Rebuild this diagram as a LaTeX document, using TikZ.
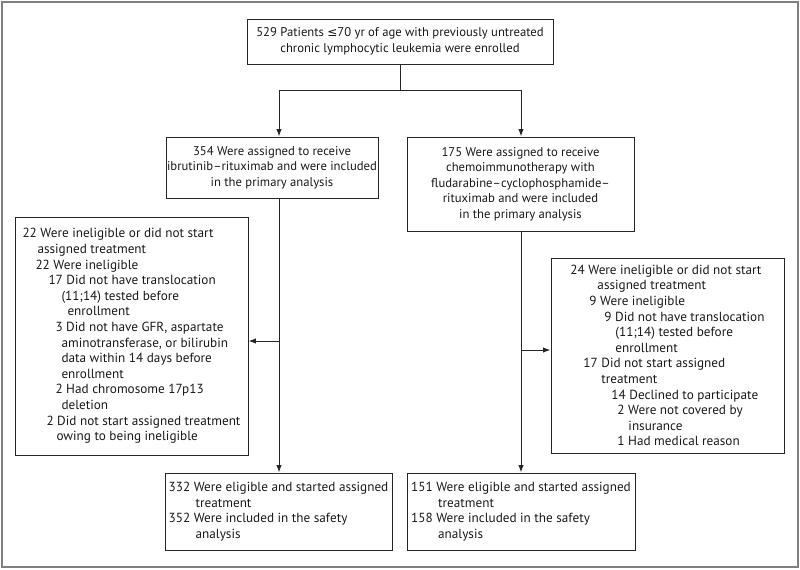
\documentclass[tikz,border=0pt]{standalone}
\usepackage{fontspec}
\setmainfont{PT Sans}
\newfontfamily\symf{DejaVu Sans}
\usetikzlibrary{arrows.meta}
\newlength\mypx
\setlength\mypx{0.75pt}
\newcommand\ind[1]{\hspace*{#1\mypx}}
\begin{document}
\begin{tikzpicture}[x=0.75pt,y=-0.75pt,
  box/.style={draw=black!85, line width=0.75pt, inner sep=0pt, align=center,
    font=\fontsize{9.5}{11.7}\selectfont, text=black!90},
  lbox/.style={box, align=left, font=\fontsize{9.9}{11.7}\selectfont},
  arr/.style={-{Latex[length=5.5pt,width=4pt]}, line width=0.75pt, draw=black!85},
  ln/.style={line width=0.75pt, draw=black!85}]
\useasboundingbox (0,0) rectangle (800,569);
\draw[draw=black!50, line width=1.5pt] (2,2) rectangle (798,567);

\node[box, minimum width=306*0.75pt, minimum height=45*0.75pt] (top) at (400,41.5)
  {529 Patients {\symf\small ≤}70 yr of age with previously untreated\\chronic lymphocytic leukemia were enrolled};

\node[box, minimum width=212*0.75pt, minimum height=61*0.75pt] (b1) at (272,167.5)
  {354 Were assigned to receive\\ibrutinib–rituximab and were included\\in the primary analysis};

\node[box, minimum width=227*0.75pt, minimum height=94*0.75pt] (b2) at (520.5,184)
  {175 Were assigned to receive\\chemoimmunotherapy with\\fludarabine–cyclophosphamide–\\rituximab and were included\\in the primary analysis};

\node[lbox, minimum width=233*0.75pt, minimum height=238*0.75pt] (e1) at (131.5,336)
  {22 Were ineligible or did not start\\
   \ind{15}assigned treatment\\
   \ind{13}22 Were ineligible\\
   \ind{26}17 Did not have translocation\\
   \ind{39}(11;14) tested before\\
   \ind{45}enrollment\\
   \ind{33}3 Did not have GFR, aspartate\\
   \ind{39}aminotransferase, or bilirubin\\
   \ind{39}data within 14 days before\\
   \ind{39}enrollment\\
   \ind{33}2 Had chromosome 17p13\\
   \ind{39}deletion\\
   \ind{24}2 Did not start assigned treatment\\
   \ind{34}owing to being ineligible};

\node[lbox, minimum width=233*0.75pt, minimum height=195*0.75pt] (e2) at (667.5,355.5)
  {24 Were ineligible or did not start\\
   \ind{27}assigned treatment\\
   \ind{19}9 Were ineligible\\
   \ind{34}9 Did not have translocation\\
   \ind{45}(11;14) tested before\\
   \ind{45}enrollment\\
   \ind{13}17 Did not start assigned\\
   \ind{31}treatment\\
   \ind{41}14 Declined to participate\\
   \ind{47}2 Were not covered by\\
   \ind{58}insurance\\
   \ind{47}1 Had medical reason};

\node[lbox, minimum width=227*0.75pt, minimum height=77*0.75pt] (f1) at (278.5,511.5)
  {332 Were eligible and started assigned\\
   \ind{27}treatment\\
   352 Were included in the safety\\
   \ind{27}analysis};

\node[lbox, minimum width=228*0.75pt, minimum height=77*0.75pt] (f2) at (521,511.5)
  {151 Were eligible and started assigned\\
   \ind{27}treatment\\
   158 Were included in the safety\\
   \ind{27}analysis};

\coordinate (split) at (400,90);
\coordinate (L) at (279,90);
\coordinate (R) at (521,90);
\coordinate (lb) at (279,341);
\coordinate (rb) at (521,350);

\draw[ln] (top.south) -- (split);
\draw[ln] (L) -- (R);
\draw[arr] (L) -- (L |- b1.north);
\draw[arr] (R) -- (R |- b2.north);
\draw[arr] (L |- b1.south) -- (L |- f1.north);
\draw[arr] (R |- b2.south) -- (R |- f2.north);
\draw[arr] (lb) -- (lb -| e1.east);
\draw[arr] (rb) -- (rb -| e2.west);
\end{tikzpicture}
\end{document}
